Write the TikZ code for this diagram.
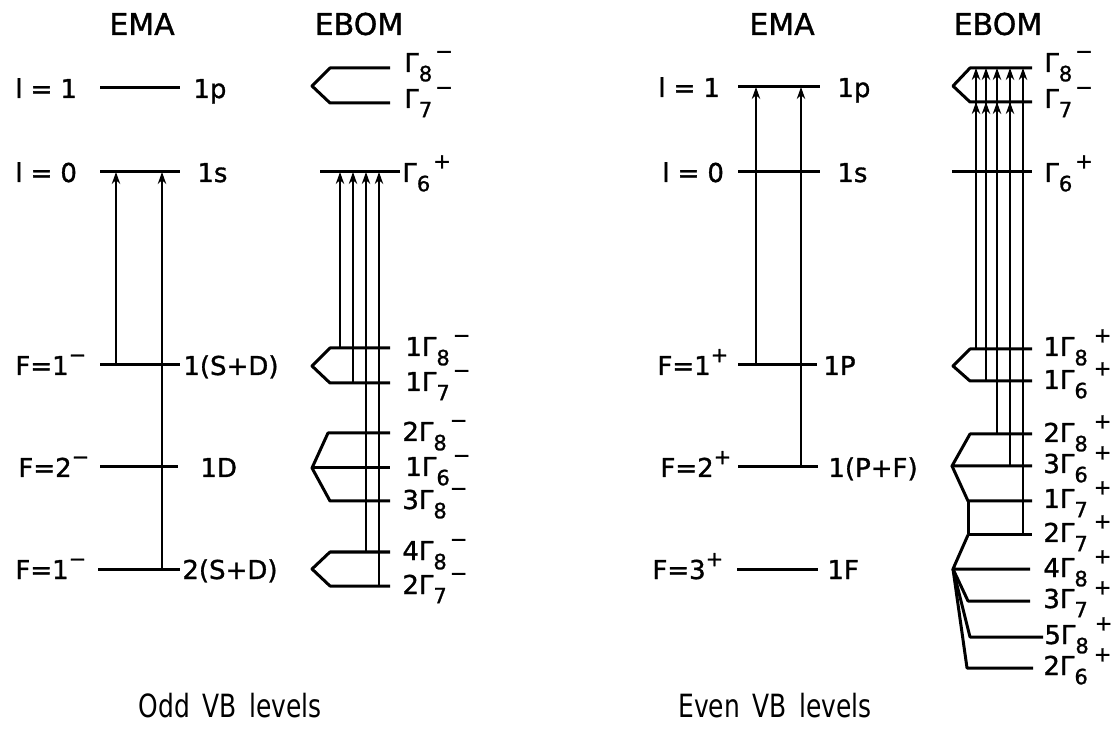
\documentclass[tikz,border=0pt]{standalone}
\usepackage{fontspec}
\setmainfont{DejaVu Sans}
\newfontfamily\heavyfont[FakeBold=1.2]{DejaVu Sans}
\usetikzlibrary{arrows.meta}
\newcommand\gam[4][1.5pt]{#2Γ\raisebox{-0.65ex}{\fontsize{10.5}{10}\selectfont #3}\hspace{#1}\raisebox{0.95ex}{\fontsize{10.5}{10}\selectfont #4}}
\newcommand\fsup[2]{#1\raisebox{0.9ex}{\fontsize{10.5}{10}\selectfont #2}}
\begin{document}
\begin{tikzpicture}[x={(0.5pt,0)},y={(0,-0.5pt)},
  lvl/.style={line width=1.5pt},
  arr/.style={line width=1.4pt,-{Stealth[length=6pt,width=4.2pt]}},
  lab/.style={anchor=base west,font=\heavyfont\fontsize{13}{13}\selectfont,inner sep=0pt},
  ttl/.style={anchor=center,font=\heavyfont\fontsize{15}{15}\selectfont,inner sep=0pt},
  captxt/.style={anchor=center,font=\fontsize{16}{16}\selectfont,inner sep=0pt}]
\useasboundingbox (0,0) rectangle (1113,731);

% ---------------- titles
\node[ttl] (t1) at (142,24) {EMA};
\node[ttl] (t2) at (359,24) {EBOM};
\node[ttl] (t3) at (782,24) {EMA};
\node[ttl] (t4) at (998,24) {EBOM};
\node[captxt] (c1) at (230,706) {\scalebox{0.78}[1]{Odd\hspace{8pt}VB\hspace{8pt}levels}};
\node[captxt] (c2) at (775,706) {\scalebox{0.78}[1]{Even\hspace{8pt}VB\hspace{8pt}levels}};

% ================= LEFT EMA
\coordinate (a1l) at (100,88);  \coordinate (a1r) at (180,88);
\coordinate (a2l) at (100,172); \coordinate (a2r) at (180,172);
\coordinate (a3l) at (100,365); \coordinate (a3r) at (180,365);
\coordinate (a4l) at (100,467); \coordinate (a4r) at (178,467);
\coordinate (a5l) at (98,569);  \coordinate (a5r) at (180,569);
\foreach \i in {1,...,5} {\draw[lvl] (a\i l) -- (a\i r);}
\coordinate (aA1s) at (116,365); \coordinate (aA1e) at (116,172);
\coordinate (aA2s) at (162,569); \coordinate (aA2e) at (162,172);
\draw[arr] (aA1s) -- (aA1e);
\draw[arr] (aA2s) -- (aA2e);
\node[lab] (la1) at (15,98) {l\hspace{4pt}=\hspace{4pt}1};
\node[lab] (la2) at (15,182) {l\hspace{4pt}=\hspace{4pt}0};
\node[lab] (la3) at (15,375) {\fsup{F=1}{−}};
\node[lab] (la4) at (18,477) {\fsup{F=2}{−}};
\node[lab] (la5) at (15,579) {\fsup{F=1}{−}};
\node[lab] (ra1) at (193,98) {1p};
\node[lab] (ra2) at (197,182) {1s};
\node[lab] (ra3) at (183,375) {1(S+D)};
\node[lab] (ra4) at (200,477) {1D};
\node[lab] (ra5) at (182,579) {2(S+D)};

% ================= LEFT EBOM
\coordinate (b1r) at (390,68); \coordinate (b1l) at (330,68);
\coordinate (bx1) at (312,86);
\coordinate (b2l) at (330,103); \coordinate (b2r) at (390,103);
\draw[lvl,line join=round] (b1r) -- (b1l) -- (bx1) -- (b2l) -- (b2r);
\coordinate (b3l) at (320,172); \coordinate (b3r) at (400,172);
\draw[lvl] (b3l) -- (b3r);
\coordinate (b4r) at (390,348); \coordinate (b4l) at (330,348);
\coordinate (bx2) at (312,366);
\coordinate (b5l) at (330,383); \coordinate (b5r) at (390,383);
\draw[lvl,line join=round] (b4r) -- (b4l) -- (bx2) -- (b5l) -- (b5r);
\coordinate (b6r) at (390,433); \coordinate (b6l) at (328,433);
\coordinate (bx3) at (312,468); \coordinate (b7r) at (390,468);
\coordinate (b8l) at (330,501); \coordinate (b8r) at (390,501);
\draw[lvl,line join=round] (b6r) -- (b6l) -- (bx3) -- (b8l) -- (b8r);
\draw[lvl] (bx3) -- (b7r);
\coordinate (b9r) at (390,552); \coordinate (b9l) at (330,552);
\coordinate (bx4) at (312,569);
\coordinate (b10l) at (330,586); \coordinate (b10r) at (390,586);
\draw[lvl,line join=round] (b9r) -- (b9l) -- (bx4) -- (b10l) -- (b10r);
\coordinate (bv1s) at (340,348); \coordinate (bv1e) at (340,172);
\coordinate (bv2s) at (353,383); \coordinate (bv2e) at (353,172);
\coordinate (bv3s) at (366,552); \coordinate (bv3e) at (366,172);
\coordinate (bv4s) at (379,586); \coordinate (bv4e) at (379,172);
\foreach \i in {1,...,4} {\draw[arr] (bv\i s) -- (bv\i e);}
\node[lab] (lb1) at (404,72) {\gam{}{8}{−}};
\node[lab] (lb2) at (404,108) {\gam{}{7}{−}};
\node[lab] (lb3) at (402,182) {\gam{}{6}{+}};
\node[lab] (lb4) at (405,356) {\gam{1}{8}{−}};
\node[lab] (lb5) at (405,391) {\gam{1}{7}{−}};
\node[lab] (lb6) at (402,441) {\gam{2}{8}{−}};
\node[lab] (lb7) at (405,476) {\gam{1}{6}{−}};
\node[lab] (lb8) at (402,509) {\gam{3}{8}{−}};
\node[lab] (lb9) at (402,560) {\gam{4}{8}{−}};
\node[lab] (lb10) at (402,594) {\gam{2}{7}{−}};

% ================= RIGHT EMA
\coordinate (c1l) at (738,87);  \coordinate (c1r) at (820,87);
\coordinate (c2l) at (738,172); \coordinate (c2r) at (820,172);
\coordinate (c3l) at (738,365); \coordinate (c3r) at (817,365);
\coordinate (c4l) at (738,467); \coordinate (c4r) at (818,467);
\coordinate (c5l) at (737,569); \coordinate (c5r) at (818,569);
\foreach \i in {1,...,5} {\draw[lvl] (c\i l) -- (c\i r);}
\coordinate (cA1s) at (756,365); \coordinate (cA1e) at (756,87);
\coordinate (cA2s) at (801,467); \coordinate (cA2e) at (801,87);
\draw[arr] (cA1s) -- (cA1e);
\draw[arr] (cA2s) -- (cA2e);
\node[lab] (lc1) at (658,97) {l\hspace{4pt}=\hspace{4pt}1};
\node[lab] (lc2) at (662,182) {l\hspace{4pt}=\hspace{4pt}0};
\node[lab] (lc3) at (657,375) {\fsup{F=1}{+}};
\node[lab] (lc4) at (660,477) {\fsup{F=2}{+}};
\node[lab] (lc5) at (652,579) {\fsup{F=3}{+}};
\node[lab] (rc1) at (837,97) {1p};
\node[lab] (rc2) at (837,182) {1s};
\node[lab] (rc3) at (823,375) {1P};
\node[lab] (rc4) at (828,477) {1(P+F)};
\node[lab] (rc5) at (827,579) {1F};

% ================= RIGHT EBOM
\coordinate (d1r) at (1032,68); \coordinate (d1l) at (970,68);
\coordinate (dx1) at (953,86);
\coordinate (d2l) at (970,102); \coordinate (d2r) at (1032,102);
\draw[lvl,line join=round] (d1r) -- (d1l) -- (dx1) -- (d2l) -- (d2r);
\coordinate (d3l) at (952,172); \coordinate (d3r) at (1032,172);
\draw[lvl] (d3l) -- (d3r);
\coordinate (d4r) at (1032,349); \coordinate (d4l) at (970,349);
\coordinate (dx2) at (953,366);
\coordinate (d5l) at (970,381); \coordinate (d5r) at (1032,381);
\draw[lvl,line join=round] (d4r) -- (d4l) -- (dx2) -- (d5l) -- (d5r);
\coordinate (d6r) at (1032,434); \coordinate (d6l) at (970,434);
\coordinate (dx3) at (952,466); \coordinate (d7r) at (1032,466);
\coordinate (d8l) at (968,501); \coordinate (d8r) at (1032,501);
\coordinate (d9l) at (968,535); \coordinate (d9r) at (1032,535);
\draw[lvl,line join=round] (d6r) -- (d6l) -- (dx3) -- (d7r);
\draw[lvl,line join=round] (dx3) -- (d8l) -- (d8r);
\draw[lvl,line join=round] (d8l) -- (d9l) -- (d9r);
\coordinate (dx4) at (953,569); \coordinate (d10r) at (1030,569);
\coordinate (d11l) at (968,601); \coordinate (d11r) at (1030,601);
\coordinate (d12l) at (970,637); \coordinate (d12r) at (1043,637);
\coordinate (d13l) at (967,668); \coordinate (d13r) at (1033,668);
\draw[lvl,line join=round] (d9l) -- (dx4) -- (d10r);
\draw[lvl,line join=round] (dx4) -- (d11l) -- (d11r);
\draw[lvl,line join=round] (dx4) -- (d12l) -- (d12r);
\draw[lvl,line join=round] (dx4) -- (d13l) -- (d13r);
\coordinate (dv1s) at (976,349);  \coordinate (dv1e) at (976,68);
\coordinate (dv2s) at (986,381);  \coordinate (dv2e) at (986,68);
\coordinate (dv3s) at (997,434);  \coordinate (dv3e) at (997,68);
\coordinate (dv4s) at (1010,466); \coordinate (dv4e) at (1010,68);
\coordinate (dv5s) at (1023,535); \coordinate (dv5e) at (1023,68);
\foreach \i in {1,...,5} {\draw[arr] (dv\i s) -- (dv\i e);}
\coordinate (dw1e) at (976,102);
\coordinate (dw2e) at (986,102);
\coordinate (dw3e) at (997,102);
\coordinate (dw4e) at (1010,102);
\foreach \i in {1,...,4} {\draw[arr] (dv\i s) -- (dw\i e);}
\node[lab] (ld1) at (1044,72) {\gam{}{8}{−}};
\node[lab] (ld2) at (1044,108) {\gam{}{7}{−}};
\node[lab] (ld3) at (1044,182) {\gam{}{6}{+}};
\node[lab] (ld4) at (1043,356) {\gam[3pt]{1}{8}{+}};
\node[lab] (ld5) at (1043,389) {\gam[3pt]{1}{6}{+}};
\node[lab] (ld6) at (1043,442) {\gam[3pt]{2}{8}{+}};
\node[lab] (ld7) at (1043,473) {\gam[3pt]{3}{6}{+}};
\node[lab] (ld8) at (1043,508) {\gam[3pt]{1}{7}{+}};
\node[lab] (ld9) at (1043,542) {\gam[3pt]{2}{7}{+}};
\node[lab] (ld10) at (1043,577) {\gam[3pt]{4}{8}{+}};
\node[lab] (ld11) at (1043,608) {\gam[3pt]{3}{7}{+}};
\node[lab] (ld12) at (1044,644) {\gam[3pt]{5}{8}{+}};
\node[lab] (ld13) at (1043,675) {\gam[3pt]{2}{6}{+}};
\end{tikzpicture}
\end{document}
